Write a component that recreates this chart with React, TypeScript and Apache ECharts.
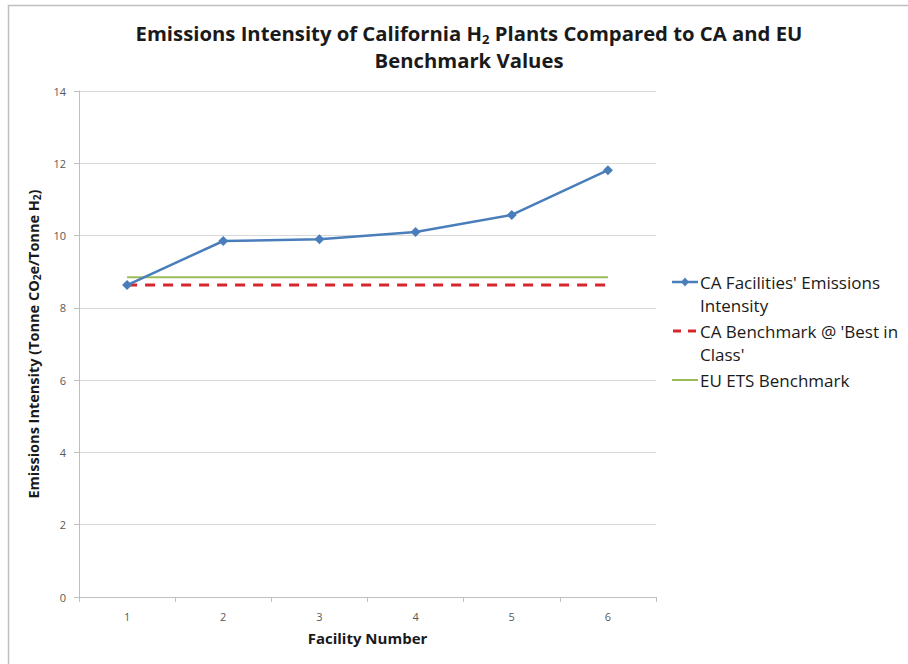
import React, { useEffect, useRef } from "react";
import * as echarts from "echarts";

const categories = ["1", "2", "3", "4", "5", "6"];
const facilityIntensity = [8.63, 9.85, 9.9, 10.1, 10.57, 11.81];
const caBenchmark = [8.63, 8.63, 8.63, 8.63, 8.63, 8.63];
const euBenchmark = [8.85, 8.85, 8.85, 8.85, 8.85, 8.85];
const legendNames = [
  "CA Facilities' Emissions\nIntensity",
  "CA Benchmark @ 'Best in\nClass'",
  "EU ETS Benchmark",
];

const FONT = "'Open Sans', 'Liberation Sans', sans-serif";
const BLUE = "#4a7ebb";
const RED = "#d7262b";
const GREEN = "#9bbb59";

export default function App() {
  const ref = useRef<HTMLDivElement>(null);
  useEffect(() => {
    if (!ref.current) return;
    const chart = echarts.init(ref.current, undefined, { renderer: "svg" });
    const lx = 672;
    const ly = 282;
    const legendText = { fontFamily: FONT, fontSize: 17, lineHeight: 23, fill: "#1a1a1a" };
    chart.setOption({
      animation: false,
      backgroundColor: "#ffffff",
      title: {
        text: "Emissions Intensity of California H{sub|2} Plants Compared to CA and EU",
        subtext: "Benchmark Values",
        left: 469,
        textAlign: "center",
        top: 21,
        padding: 0,
        itemGap: 3,
        textStyle: {
          fontFamily: FONT,
          fontWeight: "bold",
          fontSize: 20.3,
          color: "#1a1a1a",
          lineHeight: 24,
          rich: {
            sub: {
              fontFamily: FONT,
              fontWeight: "bold",
              fontSize: 13,
              color: "#1a1a1a",
              lineHeight: 14,
              verticalAlign: "bottom",
              padding: [5, 0, 0, 0],
            },
          },
        },
        subtextStyle: {
          fontFamily: FONT,
          fontWeight: "bold",
          fontSize: 20.3,
          color: "#1a1a1a",
          lineHeight: 24,
        },
      },
      grid: { left: 79, right: 252, top: 91, bottom: 67, containLabel: false },
      xAxis: {
        type: "category",
        data: categories,
        boundaryGap: true,
        name: "Facility Number",
        nameLocation: "middle",
        nameGap: 33,
        nameTextStyle: { fontFamily: FONT, fontWeight: "bold", fontSize: 15, color: "#1a1a1a" },
        axisLine: { lineStyle: { color: "#bfbfbf" } },
        axisTick: { show: true, length: 5, inside: false, lineStyle: { color: "#bfbfbf" } },
        axisLabel: { fontFamily: FONT, fontSize: 11, color: "#595959", margin: 14 },
        splitLine: { show: false },
      },
      yAxis: {
        type: "value",
        min: 0,
        max: 14,
        interval: 2,
        name: "Emissions Intensity (Tonne CO{sub|2}e/Tonne H{sub|2})",
        nameLocation: "middle",
        nameGap: 37,
        nameRotate: 90,
        nameTextStyle: {
          fontFamily: FONT,
          fontWeight: "bold",
          fontSize: 14.5,
          color: "#1a1a1a",
          rich: {
            sub: {
              fontFamily: FONT,
              fontWeight: "bold",
              fontSize: 10,
              color: "#1a1a1a",
              padding: [7, 0, 0, 0],
            },
          },
        },
        axisLine: { show: true, lineStyle: { color: "#bfbfbf" } },
        axisTick: { show: true, length: 5, lineStyle: { color: "#bfbfbf" } },
        axisLabel: { fontFamily: FONT, fontSize: 11, color: "#595959", margin: 13 },
        splitLine: { show: true, lineStyle: { color: "#d9d9d9", width: 1 } },
      },
      series: [
        {
          name: legendNames[0],
          type: "line",
          data: facilityIntensity,
          symbol: "diamond",
          symbolSize: 10,
          lineStyle: { color: BLUE, width: 2.5 },
          itemStyle: { color: BLUE },
          z: 5,
        },
        {
          name: legendNames[1],
          type: "line",
          data: caBenchmark,
          symbol: "none",
          lineStyle: { color: RED, width: 3, type: [10, 8] },
          z: 4,
        },
        {
          name: legendNames[2],
          type: "line",
          data: euBenchmark,
          symbol: "none",
          lineStyle: { color: GREEN, width: 2 },
          z: 3,
        },
      ],
      graphic: [
        {
          type: "rect",
          shape: { x: 8.5, y: 5.5, width: 1000, height: 700 },
          style: { fill: "none", stroke: "#bfbfbf", lineWidth: 1.5 },
          silent: true,
        },
        { type: "line", shape: { x1: lx, y1: ly, x2: lx + 26, y2: ly }, style: { stroke: BLUE, lineWidth: 2.5 } },
        {
          type: "polygon",
          shape: { points: [[lx + 13, ly - 4.5], [lx + 17, ly], [lx + 13, ly + 4.5], [lx + 9, ly]] },
          style: { fill: BLUE },
        },
        { type: "text", x: lx + 28, y: ly - 11, style: { text: legendNames[0], ...legendText } },
        { type: "line", shape: { x1: lx + 1, y1: ly + 49, x2: lx + 9, y2: ly + 49 }, style: { stroke: RED, lineWidth: 3 } },
        { type: "line", shape: { x1: lx + 16, y1: ly + 49, x2: lx + 24, y2: ly + 49 }, style: { stroke: RED, lineWidth: 3 } },
        { type: "text", x: lx + 28, y: ly + 38, style: { text: legendNames[1], ...legendText } },
        { type: "line", shape: { x1: lx, y1: ly + 98, x2: lx + 26, y2: ly + 98 }, style: { stroke: GREEN, lineWidth: 2 } },
        { type: "text", x: lx + 28, y: ly + 87, style: { text: legendNames[2], ...legendText } },
      ],
    });
    return () => chart.dispose();
  }, []);
  return (
    <div
      ref={ref}
      style={{ position: "fixed", left: 0, top: 0, width: 908, height: 664, background: "#fff" }}
    />
  );
}
